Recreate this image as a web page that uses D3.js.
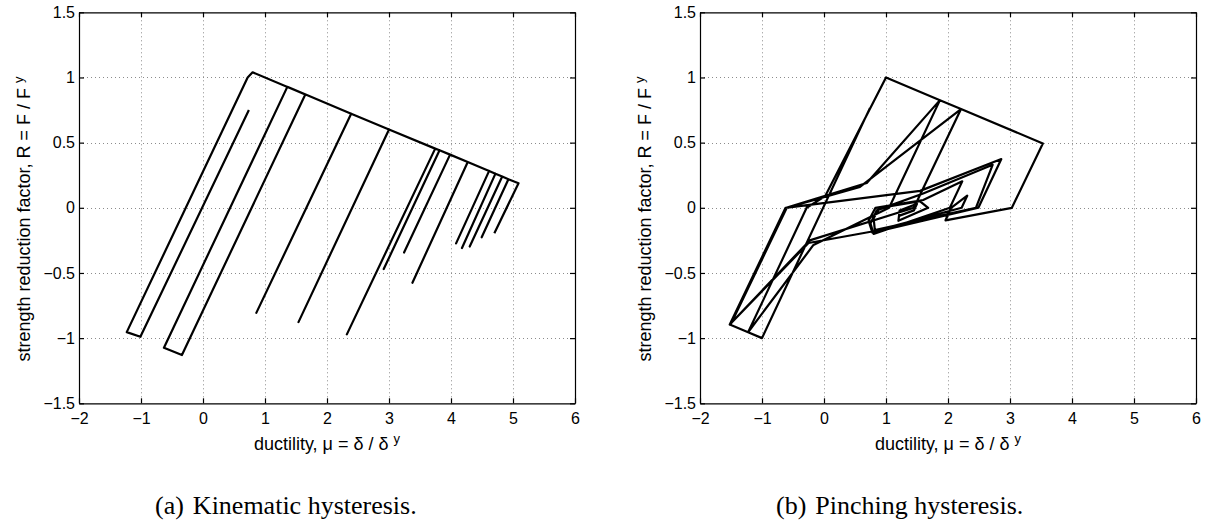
<!DOCTYPE html>
<html>
<head>
<meta charset="utf-8">
<script src="https://cdn.jsdelivr.net/npm/d3@7"></script>
<style>
  body { margin: 0; background: #fff; }
  svg { display: block; }
  .tick text { font-family: "Liberation Sans", Arial, sans-serif; font-size: 16px; fill: #000; }
  .lbl { font-family: "Liberation Sans", Arial, sans-serif; font-size: 18px; fill: #000; }
  .cap { font-family: "Liberation Serif", "Times New Roman", serif; font-size: 26px; fill: #000; }
</style>
</head>
<body>
<svg id="fig" width="1213" height="532"></svg>
<script>
// axis ticks (same for both panels)
const muTicks = [-2, -1, 0, 1, 2, 3, 4, 5, 6];
const rTicks = [-1.5, -1, -0.5, 0, 0.5, 1, 1.5];

// (a) kinematic hysteresis
const kinMu = [0.74, -1.01, -1.23, 0.72, 0.80, 1.65, -0.34, -0.63, 1.36, 2.39, 0.86, 2.39,
  3.00, 1.54, 3.00, 3.745, 2.32, 3.745, 3.815, 2.915, 3.815, 3.985, 3.243, 3.985,
  4.27, 3.378, 4.27, 4.615, 4.082, 4.615, 4.717, 4.177, 4.717, 4.826, 4.302, 4.826,
  4.926, 4.495, 4.926, 5.089, 4.699];
const kinR = [0.75, -0.99, -0.954, 1.0, 1.04, 0.87, -1.13, -1.074, 0.928, 0.722, -0.806, 0.722,
  0.601, -0.877, 0.601, 0.454, -0.971, 0.454, 0.442, -0.470, 0.442, 0.408, -0.343, 0.408,
  0.351, -0.575, 0.351, 0.283, -0.273, 0.283, 0.262, -0.309, 0.262, 0.240, -0.297, 0.240,
  0.219, -0.226, 0.219, 0.189, -0.196];

// (b) pinching hysteresis
const pinMu = [0.74, -1.0, -1.224, -0.28, 0.02, 1.0, 1.87, 1.05, -0.17, -1.224, -1.52, -0.61,
  0.69, 1.87, 2.21, 1.45, -0.23, -1.52, -1.50, -0.60, 0.58, 2.21, 3.53, 3.03, 1.96, 2.05,
  2.31, 2.22, 0.80, -0.25, -1.52, -0.62, 1.55, 2.86, 2.49, 0.78, 0.72, 0.83, 1.60, 2.23,
  2.03, 0.80, 0.75, 0.85, 1.60, 2.72, 2.45, 0.82, 0.80, 0.90, 1.55, 1.68, 1.20, 1.22,
  1.50, 1.45, 1.22];
const pinR = [0.765, -1.0, -0.955, 0, 0.09, 1.0, 0.826, 0, -0.285, -0.955, -0.896, 0,
  0.19, 0.826, 0.758, 0, -0.25, -0.896, -0.89, 0, 0.16, 0.758, 0.494, 0, -0.096, 0,
  0.093, 0, -0.18, -0.27, -0.896, 0, 0.13, 0.374, 0, -0.19, -0.10, 0, 0.06, 0.203,
  0, -0.20, -0.12, -0.02, 0.11, 0.33, 0, -0.17, -0.08, 0, 0.05, 0, -0.10, -0.02,
  0.03, -0.02, -0.06];

const captions = ["(a)", "(b)"];
const captionText = ["Kinematic hysteresis.", "Pinching hysteresis."];

const svg = d3.select('#fig');
const W = 496, yTop = 12.3, yBot = 403.3;

function fmt(v) {
  return (v < 0 ? '\u2212' : '') + Math.abs(v);
}

function drawPanel(left, mu, R, idx) {
  const x = d3.scaleLinear().domain([-2, 6]).range([left, left + W]);
  const y = d3.scaleLinear().domain([-1.5, 1.5]).range([yBot, yTop]);
  const g = svg.append('g');

  // dotted grid
  g.selectAll('.gx').data(muTicks.slice(1, -1)).enter().append('line')
    .attr('x1', d => Math.round(x(d)) + 0.5).attr('x2', d => Math.round(x(d)) + 0.5)
    .attr('y1', yTop).attr('y2', yBot)
    .attr('stroke', '#8c8c8c').attr('stroke-width', 1).attr('stroke-dasharray', '1,3');
  g.selectAll('.gy').data(rTicks.slice(1, -1)).enter().append('line')
    .attr('y1', d => Math.round(y(d)) + 0.5).attr('y2', d => Math.round(y(d)) + 0.5)
    .attr('x1', left).attr('x2', left + W)
    .attr('stroke', '#8c8c8c').attr('stroke-width', 1).attr('stroke-dasharray', '1,3');

  // axes, ticks pointing inwards on all four sides
  g.append('g').attr('transform', `translate(0,${yBot})`)
    .call(d3.axisBottom(x).tickValues(muTicks).tickSize(-5).tickSizeOuter(0).tickPadding(9).tickFormat(fmt));
  g.append('g').attr('transform', `translate(0,${yTop})`)
    .call(d3.axisTop(x).tickValues(muTicks).tickSize(-5).tickSizeOuter(0).tickFormat(''));
  g.append('g').attr('transform', `translate(${left},0)`)
    .call(d3.axisLeft(y).tickValues(rTicks).tickSize(-5).tickSizeOuter(0).tickPadding(4).tickFormat(fmt));
  g.append('g').attr('transform', `translate(${left + W},0)`)
    .call(d3.axisRight(y).tickValues(rTicks).tickSize(-5).tickSizeOuter(0).tickFormat(''));
  g.selectAll('.domain, .tick line').attr('stroke', '#000').attr('stroke-width', 1.2);

  // hysteresis curve
  const pts = mu.map((m, i) => [m, R[i]]);
  const line = d3.line().x(d => x(d[0])).y(d => y(d[1]));
  g.append('path').datum(pts)
    .attr('d', line)
    .attr('fill', 'none')
    .attr('stroke', '#000')
    .attr('stroke-width', 2.2)
    .attr('stroke-linejoin', 'round');

  // axis labels
  const xl = g.append('text').attr('class', 'lbl')
    .attr('x', left + W / 2).attr('y', 450).attr('text-anchor', 'middle');
  xl.append('tspan').text('ductility, \u03bc = \u03b4 / \u03b4 ');
  xl.append('tspan').attr('dy', -7).attr('font-size', 13).text('y');

  const yl = g.append('text').attr('class', 'lbl')
    .attr('transform', `translate(${left - 49},219) rotate(-90)`)
    .attr('text-anchor', 'middle');
  yl.append('tspan').text('strength reduction factor, R = F / F ');
  yl.append('tspan').attr('dy', -7).attr('font-size', 13).text('y');

  // caption
  const cap = g.append('text').attr('class', 'cap')
    .attr('x', left + 76).attr('y', 514);
  cap.append('tspan').text(captions[idx]);
  cap.append('tspan').attr('dx', 9).text(captionText[idx]);
}

drawPanel(79, kinMu, kinR, 0);
drawPanel(700, pinMu, pinR, 1);
</script>
</body>
</html>
